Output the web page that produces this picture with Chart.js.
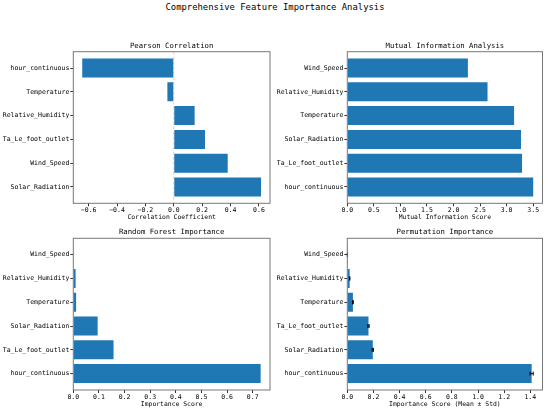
<!DOCTYPE html>
<html>
<head>
<meta charset="utf-8">
<script src="https://cdn.jsdelivr.net/npm/chart.js@4.4.1/dist/chart.umd.min.js"></script>
<style>
  body { margin: 0; background: #fff; width: 550px; height: 412px; position: relative; overflow: hidden; }
  #mainTitle { position: absolute; left: 0; top: 2px; width: 550px; text-align: center;
               font-family: "DejaVu Sans Mono", monospace; font-size: 8.9px; color: #000; }
  canvas { position: absolute; }
</style>
</head>
<body>
<div id="mainTitle">Comprehensive Feature Importance Analysis</div>
<script>
// data, listed bottom -> top like matplotlib's barh
const pearsonFeatures = ['Solar_Radiation', 'Wind_Speed', 'Ta_Le_foot_outlet', 'Relative_Humidity', 'Temperature', 'hour_continuous'];
const pearsonValues = [0.615, 0.38, 0.22, 0.147, -0.045, -0.645];

const mutualFeatures = ['hour_continuous', 'Ta_Le_foot_outlet', 'Solar_Radiation', 'Temperature', 'Relative_Humidity', 'Wind_Speed'];
const mutualValues = [3.5, 3.29, 3.27, 3.14, 2.64, 2.27];

const forestFeatures = ['hour_continuous', 'Ta_Le_foot_outlet', 'Solar_Radiation', 'Temperature', 'Relative_Humidity', 'Wind_Speed'];
const forestValues = [0.731, 0.157, 0.095, 0.011, 0.009, 0.002];

const permFeatures = ['hour_continuous', 'Solar_Radiation', 'Ta_Le_foot_outlet', 'Temperature', 'Relative_Humidity', 'Wind_Speed'];
const permValues = [1.41, 0.195, 0.162, 0.043, 0.018, 0.001];
const permStd = [0.012, 0.005, 0.005, 0.003, 0.002, 0.001];

const FONT = '"DejaVu Sans Mono", monospace';
const BAR_COLOR = '#1f77b4';
const TEXT_COLOR = '#000';

function fmt(v) {
    if (Math.abs(v) < 1e-9) return '0.0';
    return v.toFixed(1).replace('-', '\u2212');
}

// full box round the plot like matplotlib spines
const framePlugin = {
    id: 'frame',
    afterDraw(chart) {
        const a = chart.chartArea, c = chart.ctx;
        c.save();
        c.strokeStyle = '#777';
        c.lineWidth = 1;
        c.strokeRect(a.left, a.top, a.right - a.left, a.bottom - a.top);
        c.restore();
    }
};

// subplot title centred over the axes, not over the canvas
const axesTitlePlugin = {
    id: 'axesTitle',
    afterDraw(chart, args, opts) {
        const a = chart.chartArea, c = chart.ctx;
        c.save();
        c.fillStyle = TEXT_COLOR;
        c.font = '7.3px ' + FONT;
        c.textAlign = 'center';
        c.textBaseline = 'middle';
        c.fillText(opts.text, (a.left + a.right) / 2, a.top - 5.7);
        c.restore();
    }
};

const zeroLinePlugin = {
    id: 'zeroLine',
    beforeDatasetsDraw(chart, args, opts) {
        if (!opts.show) return;
        const x = chart.scales.x.getPixelForValue(0), a = chart.chartArea, c = chart.ctx;
        c.save();
        c.strokeStyle = 'rgba(255,0,0,0.25)';
        c.lineWidth = 1;
        c.setLineDash([3, 2]);
        c.beginPath();
        c.moveTo(x, a.top);
        c.lineTo(x, a.bottom);
        c.stroke();
        c.restore();
    }
};

const errorBarPlugin = {
    id: 'errorBars',
    afterDatasetsDraw(chart, args, opts) {
        if (!opts.errs) return;
        const xs = chart.scales.x, ys = chart.scales.y, c = chart.ctx;
        const vals = chart.data.datasets[0].data;
        c.save();
        c.strokeStyle = '#000';
        c.lineWidth = 1;
        vals.forEach((p, i) => {
            const x1 = xs.getPixelForValue(p.x - opts.errs[i]);
            const x2 = xs.getPixelForValue(p.x + opts.errs[i]);
            const y = ys.getPixelForValue(p.y);
            c.beginPath();
            c.moveTo(x1, y); c.lineTo(x2, y);
            c.moveTo(x1, y - 2); c.lineTo(x1, y + 2);
            c.moveTo(x2, y - 2); c.lineTo(x2, y + 2);
            c.stroke();
        });
        c.restore();
    }
};

function makePanel(p) {
    const cv = document.createElement('canvas');
    cv.width = 275; cv.height = 188;
    cv.style.left = p.left + 'px';
    cv.style.top = p.top + 'px';
    document.body.appendChild(cv);

    const errs = p.errs || p.values.map(() => 0);
    let xMin, xMax;
    if (p.signed) {
        const lo = Math.min(...p.values), hi = Math.max(...p.values);
        xMin = lo - 0.05 * (hi - lo);
        xMax = hi + 0.05 * (hi - lo);
    } else {
        xMin = 0;
        xMax = Math.max(...p.values.map((v, i) => v + errs[i])) * 1.05;
    }
    const tickFont = { family: FONT, size: 6.5 };

    return new Chart(cv, {
        type: 'bar',
        data: {
            datasets: [{
                data: p.values.map((v, i) => ({ x: v, y: i })),
                backgroundColor: BAR_COLOR,
                borderWidth: 0,
                barPercentage: 1.0,
                categoryPercentage: 0.8
            }]
        },
        options: {
            responsive: false,
            animation: false,
            indexAxis: 'y',
            layout: { padding: { top: p.padTop, right: p.padRight, bottom: 0, left: 0 } },
            plugins: {
                legend: { display: false },
                tooltip: { enabled: false },
                title: { display: false },
                axesTitle: { text: p.title },
                zeroLine: { show: !!p.signed },
                errorBars: { errs: p.errs || null }
            },
            scales: {
                x: {
                    type: 'linear', min: xMin, max: xMax,
                    border: { display: false },
                    grid: { drawOnChartArea: false, tickLength: 3, color: '#333' },
                    ticks: { stepSize: p.step, includeBounds: false, font: tickFont, color: TEXT_COLOR,
                             padding: 0, maxRotation: 0, autoSkip: false, callback: fmt },
                    title: { display: true, text: p.xLabel, color: TEXT_COLOR, font: { family: FONT, size: 6.4 },
                             padding: { top: 0, bottom: p.xTitlePad } },
                    afterFit(s) { s.height = p.xHeight; }
                },
                y: {
                    type: 'linear', min: -0.69, max: 5.69, offset: false,
                    border: { display: false },
                    grid: { drawOnChartArea: false, tickLength: 3, color: '#333', offset: false },
                    afterBuildTicks(s) { s.ticks = p.features.map((f, i) => ({ value: i })); },
                    ticks: { autoSkip: false, font: tickFont, color: TEXT_COLOR, padding: 1,
                             callback: v => p.features[v] },
                    afterFit(s) { s.width = p.yWidth; }
                }
            }
        },
        plugins: [framePlugin, axesTitlePlugin, zeroLinePlugin, errorBarPlugin]
    });
}

window.addEventListener('load', () => {
    makePanel({ left: 0, top: 36, yWidth: 73.3, padRight: 5, padTop: 15.7,
                xHeight: 20.7, xTitlePad: 2.5, step: 0.2, signed: true,
                title: 'Pearson Correlation', xLabel: 'Correlation Coefficient',
                features: pearsonFeatures, values: pearsonValues });
    makePanel({ left: 275, top: 36, yWidth: 72.3, padRight: 7.5, padTop: 15.7,
                xHeight: 20.7, xTitlePad: 2.5, step: 0.5,
                title: 'Mutual Information Analysis', xLabel: 'Mutual Information Score',
                features: mutualFeatures, values: mutualValues });
    makePanel({ left: 0, top: 224, yWidth: 73.3, padRight: 5, padTop: 14.3,
                xHeight: 22, xTitlePad: 3.7, step: 0.1,
                title: 'Random Forest Importance', xLabel: 'Importance Score',
                features: forestFeatures, values: forestValues });
    makePanel({ left: 275, top: 224, yWidth: 72.3, padRight: 7.5, padTop: 14.3,
                xHeight: 22, xTitlePad: 3.7, step: 0.2,
                title: 'Permutation Importance', xLabel: 'Importance Score (Mean \u00b1 Std)',
                features: permFeatures, values: permValues, errs: permStd });
});
</script>
</body>
</html>
